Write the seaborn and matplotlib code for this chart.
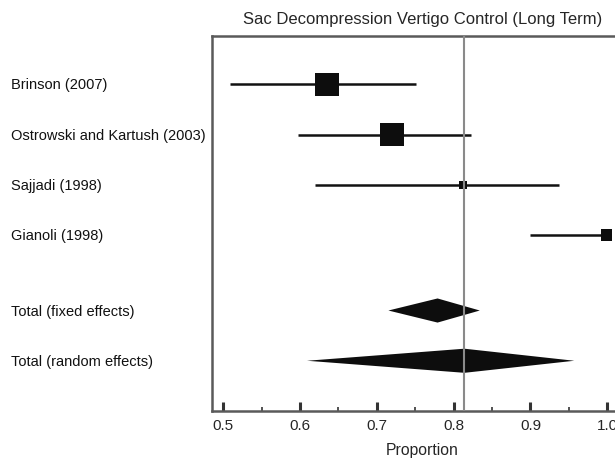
import matplotlib
matplotlib.use("Agg")
import matplotlib.pyplot as plt
import matplotlib.transforms as mtransforms
import seaborn as sns
import pandas as pd

# Individual studies: point estimate and 95% CI of the proportion
studies = ["Brinson (2007)", "Ostrowski and Kartush (2003)", "Sajjadi (1998)", "Gianoli (1998)"]
estimates = [0.635, 0.720, 0.812, 0.999]
ci_low = [0.509, 0.597, 0.620, 0.899]
ci_high = [0.751, 0.822, 0.937, 1.000]
weights = [23.0, 23.5, 8.0, 10.5]

# Pooled estimates
pooled_labels = ["Total (fixed effects)", "Total (random effects)"]
pooled_est = [0.779, 0.814]
pooled_low = [0.715, 0.609]
pooled_high = [0.834, 0.957]

xticks = [0.5, 0.6, 0.7, 0.8, 0.9, 1.0]
xtick_labels = ["0.5", "0.6", "0.7", "0.8", "0.9", "1.0"]

sns.set_theme(style="white")
plt.rcParams["font.family"] = ["Liberation Sans", "DejaVu Sans"]

W, H = 615, 460
fig = plt.figure(figsize=(W / 100, H / 100), dpi=100)
ax_left, ax_right, ax_top, ax_bot = 212.3, 632.0, 36.7, 412.0
ax = fig.add_axes([ax_left / W, 1 - ax_bot / H, (ax_right - ax_left) / W, (ax_bot - ax_top) / H])

study_rows = [0, 1, 2, 3]
pooled_rows = [4.5, 5.5]

df = pd.DataFrame({"study": studies, "est": estimates, "row": study_rows, "w": weights})

# confidence intervals
ax.hlines(study_rows, ci_low, ci_high, color="#111111", lw=1.8, zorder=2)

# weighted squares
sns.scatterplot(data=df, x="est", y="row", size="w", sizes=(min(weights) ** 2 * 0.52, max(weights) ** 2 * 0.52),
                size_norm=(min(weights), max(weights)), marker="s", color="#0d0d0d",
                edgecolor="none", linewidth=0, legend=False, ax=ax, zorder=3)

# pooled diamonds
half_h = 0.24
for r, lo, e, hi in zip(pooled_rows, pooled_low, pooled_est, pooled_high):
    ax.fill([lo, e, hi, e], [r, r - half_h, r, r + half_h], color="#0d0d0d", lw=0, zorder=3)

# reference line at the random-effects estimate
ax.axvline(pooled_est[1], color="#8a8a8a", lw=1.5, zorder=4)

ax.set_xlim(0.4857, 0.4857 + (ax_right - ax_left) / 768.0)
ax.set_ylim(6.5, -0.97)
ax.set_yticks([])
ax.set_ylabel("")

ax.set_xticks(xticks)
ax.set_xticklabels(xtick_labels)
ax.set_xticks([0.55, 0.65, 0.75, 0.85, 0.95], minor=True)
ax.tick_params(axis="x", which="major", direction="in", length=6.5, width=2.2, color="#333333",
               labelsize=11, pad=5, bottom=True)
ax.tick_params(axis="x", which="minor", direction="in", length=3, width=1.2, color="#333333", bottom=True)
ax.set_xlabel("Proportion", fontsize=11.3, labelpad=7)

for side in ["left", "top", "bottom"]:
    ax.spines[side].set_color("#5a5a5a")
    ax.spines[side].set_linewidth(1.8)
ax.spines["right"].set_visible(False)

ax.set_title("Sac Decompression Vertigo Control (Long Term)", fontsize=12, pad=9.5)

# row labels at the left margin
trans = mtransforms.blended_transform_factory(fig.transFigure, ax.transData)
for lab, r in zip(studies + pooled_labels, study_rows + pooled_rows):
    ax.text(11 / W, r, lab, transform=trans, ha="left", va="center", fontsize=10.5, color="#111111")

fig.savefig("out.png", dpi=100)
